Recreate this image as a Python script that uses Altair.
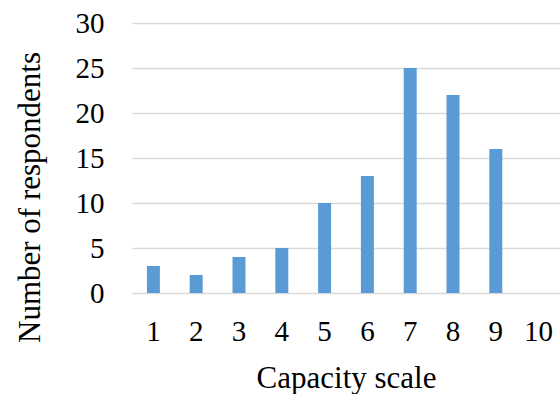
import altair as alt
import pandas as pd

categories = [1, 2, 3, 4, 5, 6, 7, 8, 9, 10]
respondents = [3, 2, 4, 5, 10, 13, 25, 22, 16, 0]

df = pd.DataFrame({"scale": [str(c) for c in categories], "n": respondents})

FONT = "Liberation Serif"

chart = alt.Chart(df).mark_bar(size=13, color="#5B9BD5").encode(
    x=alt.X("scale:N", sort=[str(c) for c in categories],
            scale=alt.Scale(paddingInner=0, paddingOuter=0),
            axis=alt.Axis(title="Capacity scale", labelAngle=0, domain=False, ticks=False,
                          grid=False, labelFont=FONT, labelFontSize=29, labelColor="black",
                          labelPadding=24, titleFont=FONT, titleFontSize=31,
                          titleFontWeight="normal", titleColor="black", titlePadding=17)),
    y=alt.Y("n:Q", scale=alt.Scale(domain=[0, 30]),
            axis=alt.Axis(title="Number of respondents", values=[0, 5, 10, 15, 20, 25, 30],
                          domain=False, ticks=False, grid=True, gridColor="#D9D9D9",
                          gridWidth=1.5, labelFont=FONT, labelFontSize=29, labelColor="black",
                          labelPadding=28, titleFont=FONT, titleFontSize=31,
                          titleFontWeight="normal", titleColor="black",
                          titleX=-102, titleY=174, titleAngle=270,
                          titleBaseline="middle", titleAlign="center")),
).properties(
    width=428, height=270,
    autosize=alt.AutoSizeParams(type="none"),
    padding={"left": 132, "top": 23, "right": 0, "bottom": 101},
).configure_view(stroke=None)

chart.save("out.html", embed_options={"renderer": "svg", "actions": False})
